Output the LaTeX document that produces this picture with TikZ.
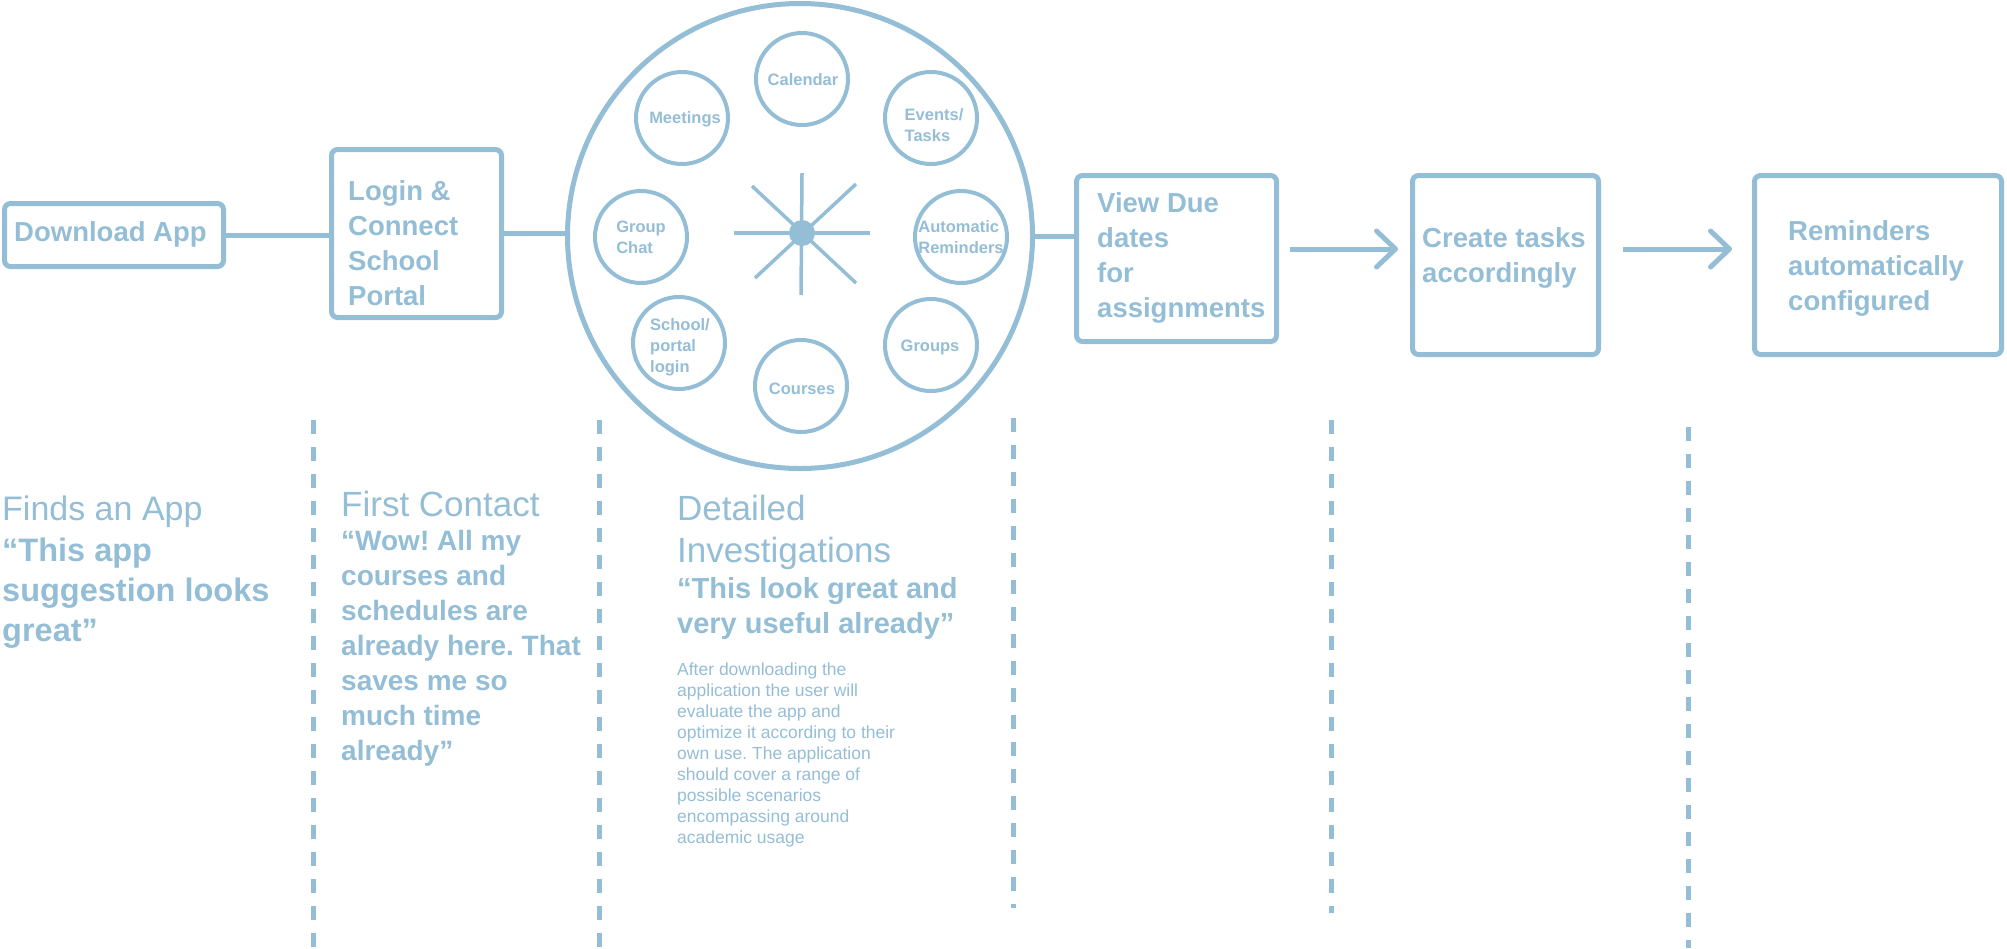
\documentclass[tikz,border=0pt]{standalone}
\usepackage{fontspec}
\setmainfont{Liberation Sans}
\usetikzlibrary{arrows.meta}
\definecolor{jb}{HTML}{94BDD6}
\frenchspacing
\tikzset{
  box/.style={draw=jb, line width=5pt, rounded corners=6pt, inner sep=0pt},
  boxtext/.style={anchor=base west, inner sep=0pt, align=left, text=jb,
    font=\fontsize{27.5}{35}\selectfont\bfseries},
  bigc/.style={draw=jb, line width=5pt, circle, minimum size=465pt, inner sep=0pt},
  smallc/.style={draw=jb, line width=4pt, circle, minimum size=92pt, inner sep=0pt},
  ctext/.style={inner sep=0pt, align=left, text=jb,
    font=\fontsize{16.5}{21}\selectfont\bfseries},
  conn/.style={draw=jb, line width=5pt},
  arr/.style={draw=jb, line width=5pt, -{Straight Barb[length=19pt,width=36pt,round]}},
  spoke/.style={draw=jb, line width=3.5pt},
  phase/.style={draw=jb, line width=5pt, dash pattern=on 14pt off 13pt},
  title/.style={anchor=base west, inner sep=0pt, align=left, text=jb},
}
\begin{document}
\begin{tikzpicture}[x=1pt,y=-1pt]
\useasboundingbox (0,0) rectangle (2007,948);

% process boxes
\node[box, minimum width=219pt, minimum height=63pt] (dl) at (114,235) {};
\node[box, minimum width=170pt, minimum height=168pt] (login) at (416.5,233.5) {};
\node[box, minimum width=200pt, minimum height=166pt] (vd) at (1176.5,258.5) {};
\node[box, minimum width=186pt, minimum height=179pt] (ct) at (1505.5,265) {};
\node[box, minimum width=247pt, minimum height=179pt] (rm) at (1878,265) {};

% (multi-line nodes: base anchor = baseline of the last line)
\node[boxtext] (dlt) at (14,241) {Download App};
\node[boxtext] (logint) at (348,305) {Login \&\\Connect\\School\\Portal};
\node[boxtext] (vdt) at (1097,317) {View Due\\dates\\for\\assignments};
\node[boxtext] (ctt) at (1422,282) {Create tasks\\accordingly};
\node[boxtext] (rmt) at (1788,310) {Reminders\\automatically\\configured};

% big circle with features
\node[bigc] (big) at (800,236) {};
\node[smallc] (cal) at (802,79) {};
\node[smallc] (meet) at (682,118) {};
\node[smallc] (ev) at (931,118) {};
\node[smallc] (gc) at (641,237) {};
\node[smallc] (ar) at (961,237) {};
\node[smallc] (sp) at (679,343) {};
\node[smallc] (grp) at (931,345) {};
\node[smallc] (crs) at (801,386) {};

\node[ctext] (calt) at (803,80) {Calendar};
\node[ctext] (meett) at (685,119) {Meetings};
\node[ctext] (evt) at (934,125) {Events/\\Tasks};
\node[ctext] (gct) at (641,237) {Group\\Chat};
\node[ctext] (art) at (961,237) {Automatic\\Reminders};
\node[ctext] (spt) at (680,347) {School/\\portal\\login};
\node[ctext] (grpt) at (930,347) {Groups};
\node[ctext] (crst) at (802,389) {Courses};

% star in the centre
\draw[spoke] (734,233) -- (870,233);
\draw[spoke] (802,173) -- (801,295);
\draw[spoke] (752,186) -- (856,283);
\draw[spoke] (856,184) -- (755,278);
\fill[jb] (802,233) circle[radius=13pt];

% connectors
\draw[conn] (dl.east) -- (dl.east -| login.west);
\draw[conn] (login.east) -- (login.east -| big.west);
\draw[conn] (big.east) -- (big.east -| vd.west);
\coordinate (arow) at (0,249);
\draw[arr, shorten <=11pt, shorten >=12pt] (vd.east |- arow) -- (ct.west |- arow);
\draw[arr, shorten <=22pt, shorten >=20pt] (ct.east |- arow) -- (rm.west |- arow);

% phase separators
\coordinate (d1a) at (313,420); \coordinate (d1b) at (313,948);
\coordinate (d2a) at (599,420); \coordinate (d2b) at (599,948);
\coordinate (d3a) at (1013,418); \coordinate (d3b) at (1013,908);
\coordinate (d4a) at (1331,420); \coordinate (d4b) at (1331,913);
\coordinate (d5a) at (1688,427); \coordinate (d5b) at (1688,948);
\draw[phase] (d1a) -- (d1b);
\draw[phase] (d2a) -- (d2b);
\draw[phase] (d3a) -- (d3b);
\draw[phase] (d4a) -- (d4b);
\draw[phase] (d5a) -- (d5b);

% phase texts
\node[title, font=\fontsize{34}{41}\selectfont] (p1t) at (2,520) {Finds an App};
\node[title, font=\fontsize{32.5}{40}\selectfont\bfseries] (p1q) at (2,641)
  {“This app\\suggestion looks\\great”};
\node[title, font=\fontsize{35}{42}\selectfont] (p2t) at (341,516) {First Contact};
\node[title, font=\fontsize{28}{35}\selectfont\bfseries] (p2q) at (341,760)
  {“Wow! All my\\courses and\\schedules are\\already here. That\\saves me so\\much time\\already”};
\node[title, font=\fontsize{35}{42}\selectfont] (p3t) at (677,562) {Detailed\\Investigations};
\node[title, font=\fontsize{29}{35}\selectfont\bfseries] (p3q) at (677,633)
  {“This look great and\\very useful already”};
\node[title, font=\fontsize{17.5}{21}\selectfont] (p3b) at (677,843)
  {After downloading the\\application the user will\\evaluate the app and\\optimize it according to their\\own use. The application\\should cover a range of\\possible scenarios\\encompassing around\\academic usage};
\end{tikzpicture}
\end{document}
